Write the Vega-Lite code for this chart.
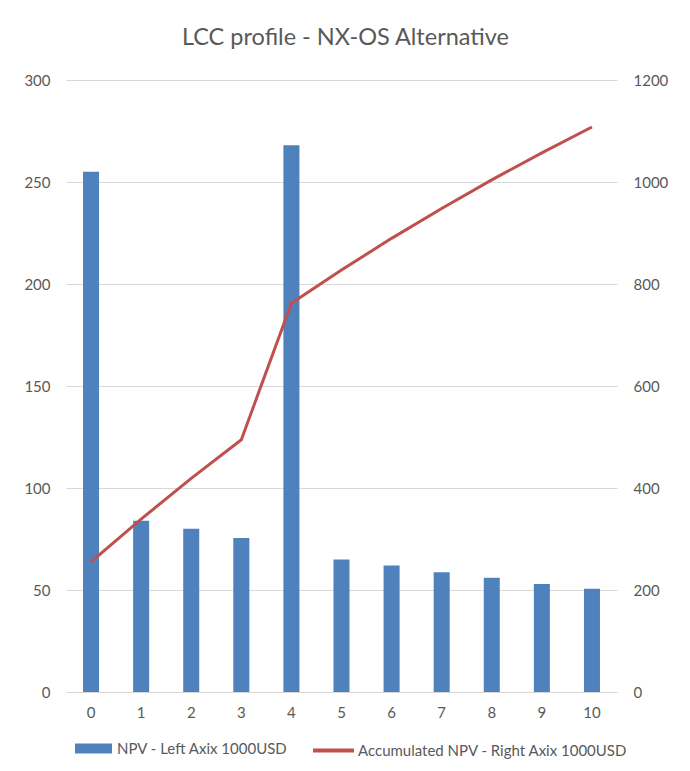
{
  "$schema": "https://vega.github.io/schema/vega-lite/v6.json",
  "width": 551,
  "height": 612,
  "autosize": "none",
  "padding": {"left": 66, "top": 80, "right": 73, "bottom": 79},
  "background": "white",
  "title": {"text": "LCC profile - NX-OS Alternative", "fontSize": 23.5, "font": "Lato", "fontWeight": "normal", "color": "#595959", "offset": 24, "dx": 4},
  "config": {"view": {"stroke": null}, "font": "Lato"},
  "data": {"values": [
    {"year": 0, "npv": 255, "cum": 255},
    {"year": 1, "npv": 84, "cum": 339},
    {"year": 2, "npv": 80, "cum": 419},
    {"year": 3, "npv": 75.5, "cum": 494.5},
    {"year": 4, "npv": 268, "cum": 762.5},
    {"year": 5, "npv": 65, "cum": 827.5},
    {"year": 6, "npv": 62, "cum": 889.5},
    {"year": 7, "npv": 58.7, "cum": 948.2},
    {"year": 8, "npv": 56, "cum": 1004.2},
    {"year": 9, "npv": 53, "cum": 1057.2},
    {"year": 10, "npv": 50.6, "cum": 1107.8}
  ]},
  "encoding": {
    "x": {"field": "year", "type": "ordinal",
      "scale": {"paddingInner": 0.68, "paddingOuter": 0.34},
      "axis": {"title": null, "labelAngle": 0, "ticks": false, "domainColor": "#d9d9d9", "domainWidth": 1, "labelPadding": 13, "labelFontSize": 15, "labelColor": "#595959", "labelFont": "Lato", "grid": false}}
  },
  "layer": [
    {
      "mark": {"type": "bar", "color": "#4f81bd"},
      "encoding": {
        "y": {"field": "npv", "type": "quantitative", "scale": {"domain": [0, 300]},
          "axis": {"title": null, "values": [0, 50, 100, 150, 200, 250, 300], "domain": false, "ticks": false, "labelPadding": 16, "labelFontSize": 15, "labelColor": "#595959", "labelFont": "Lato", "grid": true, "gridColor": "#d9d9d9", "gridWidth": 1}},
        "color": {"datum": "NPV - Left Axix 1000USD", "scale": {"range": ["#4f81bd"]},
          "legend": {"title": null, "orient": "none", "legendX": 9, "legendY": 650, "padding": 0, "symbolType": "M-1,-0.27H1V0.27H-1Z", "symbolSize": 1369, "symbolStrokeWidth": 0, "symbolOpacity": 1, "labelFontSize": 15, "labelColor": "#595959", "labelFont": "Lato", "labelOffset": 5, "labelLimit": 400}}
      }
    },
    {
      "mark": {"type": "line", "strokeWidth": 3},
      "encoding": {
        "y": {"field": "cum", "type": "quantitative", "scale": {"domain": [0, 1200]},
          "axis": {"title": null, "orient": "right", "format": "d", "values": [0, 200, 400, 600, 800, 1000, 1200], "domain": false, "ticks": false, "labelPadding": 16, "labelFontSize": 15, "labelColor": "#595959", "labelFont": "Lato", "grid": false}},
        "stroke": {"datum": "Accumulated NPV - Right Axix 1000USD", "scale": {"range": ["#c0504d"]},
          "legend": {"title": null, "orient": "none", "legendX": 245, "legendY": 648, "padding": 0, "symbolType": "stroke", "symbolSize": 1681, "symbolStrokeWidth": 4, "labelFontSize": 15, "labelColor": "#595959", "labelFont": "Lato", "labelOffset": 2, "labelLimit": 400}}
      }
    }
  ],
  "resolve": {"scale": {"y": "independent"}}
}
